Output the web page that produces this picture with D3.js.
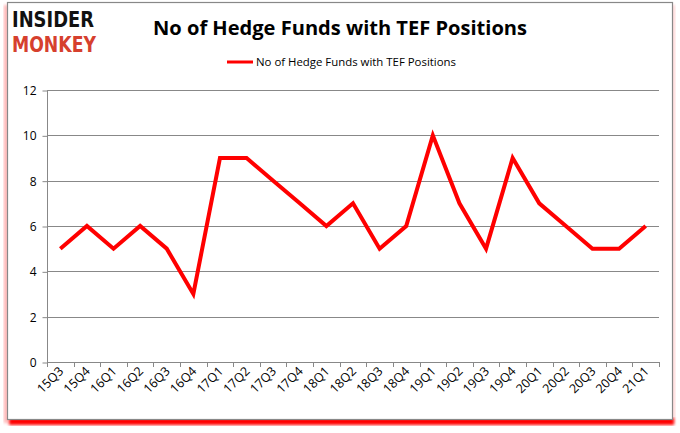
<!DOCTYPE html>
<html><head><meta charset="utf-8">
<script src="https://cdn.jsdelivr.net/npm/d3@7"></script>
<style>body{margin:0;background:#fff}svg{display:block}</style>
</head><body>
<svg id="c" width="680" height="433"></svg>
<script>
const quarters = ["15Q3","15Q4","16Q1","16Q2","16Q3","16Q4","17Q1","17Q2","17Q3","17Q4","18Q1","18Q2","18Q3","18Q4","19Q1","19Q2","19Q3","19Q4","20Q1","20Q2","20Q3","20Q4","21Q1"];
const hedgeFunds = [5,6,5,6,5,3,9,9,8,7,6,7,5,6,10,7,5,9,7,6,5,5,6];
const yTicks = [0,2,4,6,8,10,12];
const seriesName = "No of Hedge Funds with TEF Positions";
const titleText = "No of Hedge Funds with TEF Positions";

const svg = d3.select("#c");
const defs = svg.append("defs");
const f = defs.append("filter").attr("id","glow").attr("x","-5%").attr("y","-5%").attr("width","110%").attr("height","110%");
f.append("feGaussianBlur").attr("stdDeviation",1.5);

// frame shadow
svg.append("rect").attr("x",4).attr("y",5).attr("width",4).attr("height",418).attr("fill","#ff6666").attr("opacity",0.5).attr("filter","url(#glow)");
svg.append("rect").attr("x",672).attr("y",5).attr("width",3).attr("height",418).attr("fill","#ff6666").attr("opacity",0.3).attr("filter","url(#glow)");
svg.append("rect").attr("x",9).attr("y",418).attr("width",665).attr("height",7).attr("fill","#ff0000").attr("filter","url(#glow)");
svg.append("rect").attr("x",7.5).attr("y",2.5).attr("width",665).attr("height",417).attr("fill","#fff").attr("stroke","#888").attr("stroke-width",1.2);

// logo
svg.append("text").attr("x",12).attr("y",27).attr("font-family","DejaVu Sans").attr("font-weight","bold").attr("font-size",21).attr("textLength",82).attr("lengthAdjust","spacingAndGlyphs").attr("fill","#111").text("INSIDER");
svg.append("text").attr("x",12).attr("y",52).attr("font-family","DejaVu Sans").attr("font-weight","bold").attr("font-size",22).attr("textLength",84).attr("lengthAdjust","spacingAndGlyphs").attr("fill","#d6402e").text("MONKEY");

// title
svg.append("text").attr("x",340).attr("y",35).attr("text-anchor","middle").attr("font-family","Open Sans").attr("font-weight","bold").attr("font-size",19).attr("textLength",374).attr("lengthAdjust","spacingAndGlyphs").attr("fill","#000").text(titleText);

// legend
svg.append("line").attr("x1",227).attr("x2",253).attr("y1",62).attr("y2",62).attr("stroke","#ff0000").attr("stroke-width",3);
svg.append("text").attr("x",256).attr("y",66).attr("font-family","Open Sans").attr("font-size",11.5).attr("textLength",200).attr("lengthAdjust","spacingAndGlyphs").attr("fill","#000").text(seriesName);

const x0 = 47, x1 = 659, yTop = 90, yBot = 362;
const x = d3.scaleBand().domain(quarters).range([x0,x1]);
const y = d3.scaleLinear().domain([0,12]).range([yBot,yTop]);

// gridlines
svg.append("g").selectAll("line").data(yTicks.filter(d=>d>0)).join("line")
  .attr("x1",x0).attr("x2",x1).attr("y1",d=>Math.round(y(d))+0.5).attr("y2",d=>Math.round(y(d))+0.5)
  .attr("stroke","#888").attr("stroke-width",1);

// y axis
const ya = svg.append("g").attr("transform",`translate(${x0+0.5},0.5)`)
  .call(d3.axisLeft(y).tickValues(yTicks).tickSize(5).tickPadding(6));
ya.select(".domain").attr("stroke","#888").attr("d",`M0,${yTop}V${yBot}`);
ya.selectAll(".tick line").attr("stroke","#888");
ya.selectAll(".tick text").attr("font-family","Open Sans").attr("font-size",12).attr("fill","#000");

// x axis
const xa = svg.append("g").attr("transform",`translate(0.5,${yBot+0.5})`)
  .call(d3.axisBottom(x).tickSize(0).tickFormat(""));
xa.select(".domain").attr("stroke","#888").attr("d",`M${x0},0H${x1}`);
xa.selectAll(".tick line").remove();
svg.append("g").selectAll("line").data(quarters.concat(["__end"])).join("line")
  .attr("x1",(d,i)=>Math.round(x0 + i*x.step())+0.5).attr("x2",(d,i)=>Math.round(x0 + i*x.step())+0.5)
  .attr("y1",yBot).attr("y2",yBot+5).attr("stroke","#888");
svg.append("g").selectAll("text").data(quarters).join("text")
  .attr("transform",d=>`translate(${x(d)+x.bandwidth()/2+4},${yBot+10}) rotate(-45)`)
  .attr("text-anchor","end").attr("font-family","Open Sans").attr("font-size",12.5).attr("fill","#000").text(d=>d);

// line
const line = d3.line().x((d,i)=>x(quarters[i])+x.bandwidth()/2).y(d=>y(d));
svg.append("path").datum(hedgeFunds).attr("d",line).attr("fill","none").attr("stroke","#ff0000").attr("stroke-width",4).attr("stroke-linejoin","miter");
</script>
</body></html>
